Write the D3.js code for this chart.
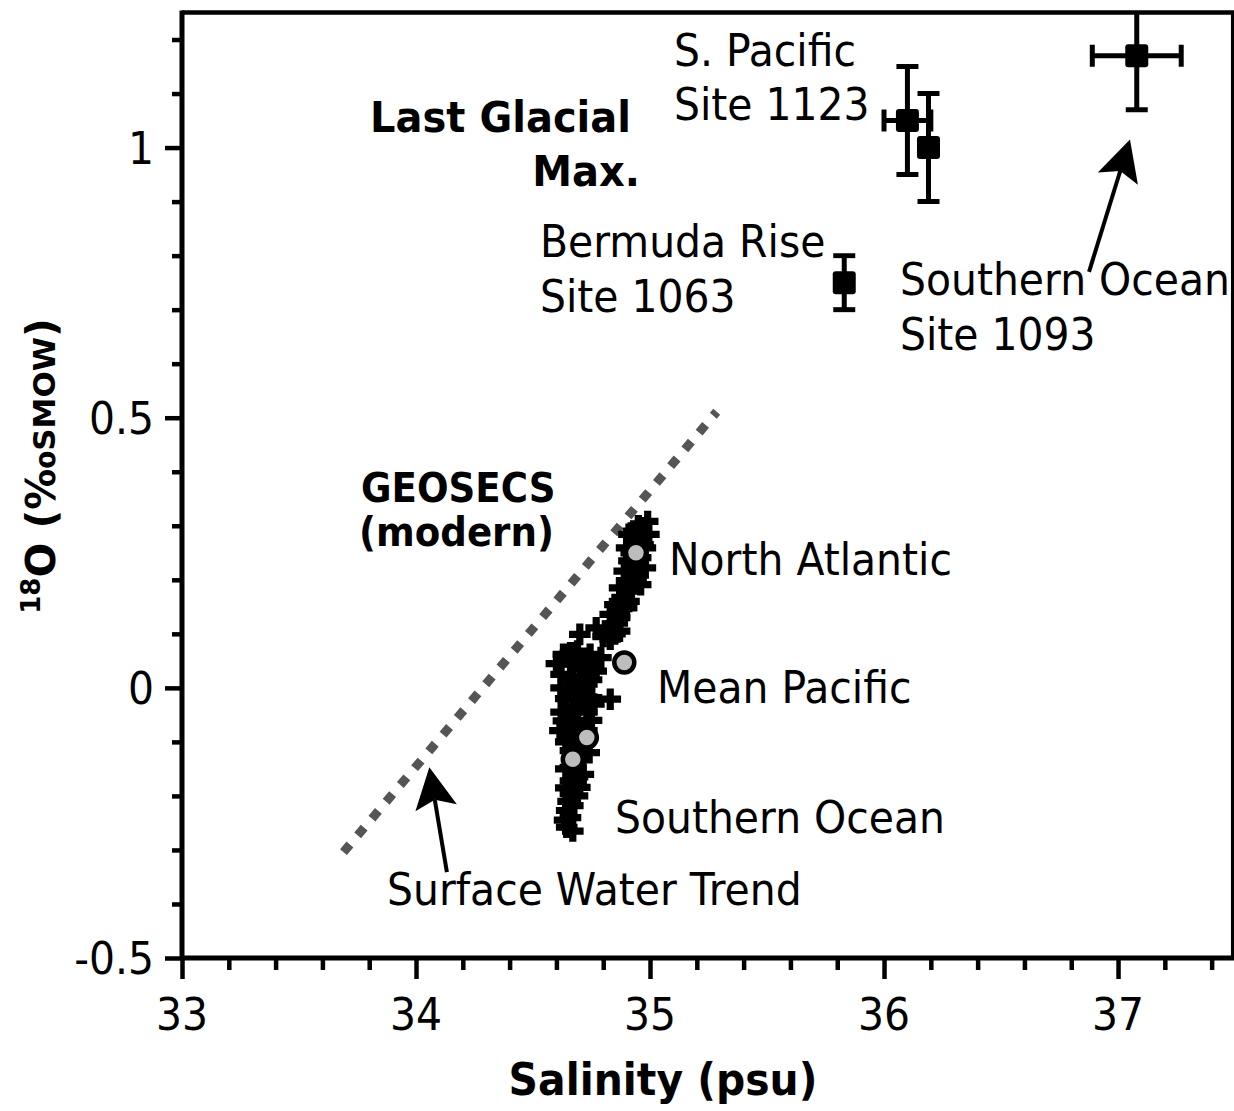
<!DOCTYPE html>
<html>
<head>
<meta charset="utf-8">
<script src="https://cdn.jsdelivr.net/npm/d3@7"></script>
<style>
  html, body { margin: 0; background: #fff; }
  svg { display: block; }
</style>
</head>
<body>
<svg id="chart" width="1234" height="1111"></svg>
<script>
// ---------------- data ----------------
const xTicks = [33, 34, 35, 36, 37];
const xTickLabels = ["33", "34", "35", "36", "37"];
const yTicks = [-0.5, 0, 0.5, 1];
const yTickLabels = ["-0.5", "0", "0.5", "1"];

// GEOSECS modern deep-water samples
const geosecsSal = [
  34.99, 34.96, 34.995, 34.91, 34.94, 34.98, 34.90, 34.96, 34.91, 34.98,
  34.89, 34.93, 34.90, 34.96, 34.87, 34.92, 34.89, 34.85, 34.90, 34.83,
  34.87, 34.84, 34.81, 34.87, 34.77, 34.70, 34.83,
  34.95, 34.93, 34.97, 34.92, 34.95, 34.94, 34.91, 34.87, 34.86, 34.85, 34.80,
  34.63, 34.69, 34.744, 34.79, 34.66, 34.715, 34.77, 34.67, 34.73, 34.65,
  34.70, 34.75, 34.83, 34.67, 34.73, 34.63, 34.69, 34.73, 34.615, 34.67,
  34.715, 34.66, 34.70, 34.66, 34.715, 34.66, 34.70, 34.66, 34.67, 34.644,
  34.635, 34.644,
  34.60, 34.66, 34.70, 34.74, 34.62, 34.70, 34.75, 34.62, 34.68, 34.72,
  34.64, 34.76, 34.62, 34.69, 34.75, 34.66, 34.71, 34.64, 34.70, 34.74,
  34.68, 34.64, 34.69, 34.64, 34.69, 34.65, 34.66, 34.67
];
const geosecsD18O = [
  0.308, 0.296, 0.284, 0.284, 0.271, 0.259, 0.259, 0.241, 0.235, 0.222,
  0.216, 0.210, 0.197, 0.191, 0.185, 0.179, 0.167, 0.154, 0.148, 0.136,
  0.130, 0.118, 0.105, 0.105, 0.111, 0.099, 0.090,
  0.300, 0.290, 0.265, 0.250, 0.228, 0.200, 0.160, 0.160, 0.120, 0.100, 0.095,
  0.062, 0.068, 0.062, 0.056, 0.044, 0.037, 0.031, 0.019, 0.007, -0.006,
  -0.012, -0.018, -0.021, -0.036, -0.045, -0.061, -0.067, -0.079, -0.079, -0.092,
  -0.104, -0.116, -0.129, -0.147, -0.160, -0.172, -0.184, -0.196, -0.218, -0.227,
  -0.245, -0.258,
  0.045, 0.065, 0.050, 0.045, 0.025, 0.020, 0.015, 0.000, 0.000, -0.005,
  -0.020, -0.030, -0.045, -0.040, -0.060, -0.070, -0.085, -0.100, -0.110, -0.120,
  -0.140, -0.150, -0.165, -0.185, -0.200, -0.210, -0.240, -0.265
];

// regional means of the modern water masses
const meanSal  = [34.94, 34.89, 34.73, 34.67];
const meanD18O = [0.250, 0.047, -0.092, -0.132];

// Last Glacial Maximum pore-water reconstructions (sites 1123, 1123, 1063, 1093)
const lgmSal     = [36.10, 36.19, 35.83, 37.08];
const lgmD18O    = [1.05, 1.00, 0.75, 1.17];
const lgmSalErr  = [0.10, 0, 0, 0.19];
const lgmD18OErr = [0.10, 0.10, 0.05, 0.10];

// surface water trend line end points
const trendSal  = [33.69, 35.285];
const trendD18O = [-0.304, 0.511];

// annotation arrows: [tail salinity, tail d18O, tip salinity, tip d18O]
const arrowSouthern = [36.876, 0.770, 37.051, 1.015];
const arrowTrend    = [34.132, -0.341, 34.057, -0.147];

// ---------------- layout ----------------
const FONT = "'DejaVu Sans', Verdana, sans-serif";
const SX = 0.93;
const svg = d3.select("#chart");

const x = d3.scaleLinear().domain([33, 37.49]).range([182, 1232.7]);
const y = d3.scaleLinear().domain([-0.5, 1.25]).range([958, 12.5]);

// text drawn slightly condensed, like the original typeface
function label(txt, px, py, opts = {}) {
  return svg.append("text")
    .attr("transform", `translate(${px},${py}) scale(${SX},1)`)
    .attr("font-family", FONT)
    .attr("font-size", opts.size || 44)
    .attr("font-weight", opts.bold ? "bold" : "normal")
    .attr("text-anchor", opts.anchor || "start")
    .attr("fill", "#000")
    .text(txt);
}

svg.append("defs").append("clipPath").attr("id", "plotClip")
  .append("rect")
  .attr("x", x.range()[0]).attr("y", y.range()[1])
  .attr("width", x.range()[1] - x.range()[0])
  .attr("height", y.range()[0] - y.range()[1]);

// ---------------- axes ----------------
const xMinor = d3.range(33.2, 37.45, 0.2).filter(v => Math.abs(v - Math.round(v)) > 1e-6);
const yMinor = d3.range(-0.4, 1.25, 0.1).filter(v => Math.abs(v * 2 - Math.round(v * 2)) > 1e-6);

function styleAxis(g) {
  g.select(".domain").remove();
  g.selectAll(".tick line").attr("stroke", "#000").attr("stroke-width", 4.5);
  g.selectAll(".tick text").remove();
}

svg.append("g").attr("transform", `translate(0,${y(-0.5)})`)
  .call(d3.axisBottom(x).tickValues(xMinor).tickSize(12).tickFormat(""))
  .call(styleAxis);
svg.append("g").attr("transform", `translate(0,${y(-0.5)})`)
  .call(d3.axisBottom(x).tickValues(xTicks).tickSize(21).tickFormat(""))
  .call(styleAxis);
svg.append("g").attr("transform", `translate(${x(33)},0)`)
  .call(d3.axisLeft(y).tickValues(yMinor).tickSize(10).tickFormat(""))
  .call(styleAxis);
svg.append("g").attr("transform", `translate(${x(33)},0)`)
  .call(d3.axisLeft(y).tickValues(yTicks).tickSize(17).tickFormat(""))
  .call(styleAxis);

// plot frame
const [x0, x1] = x.range();
const [yb, yt] = y.range();
svg.append("line").attr("x1", x0).attr("x2", x1 + 1.5).attr("y1", yb).attr("y2", yb)
  .attr("stroke", "#000").attr("stroke-width", 5);
svg.append("line").attr("x1", x0).attr("x2", x0).attr("y1", yt - 2).attr("y2", yb)
  .attr("stroke", "#000").attr("stroke-width", 5);
svg.append("line").attr("x1", x0).attr("x2", x1 + 1.5).attr("y1", yt).attr("y2", yt)
  .attr("stroke", "#000").attr("stroke-width", 4.5);
svg.append("line").attr("x1", x1).attr("x2", x1).attr("y1", yt).attr("y2", yb)
  .attr("stroke", "#000").attr("stroke-width", 3.5);

// tick labels
xTicks.forEach((v, i) => label(xTickLabels[i], x(v), 1030, { anchor: "middle" }));
yTicks.forEach((v, i) => label(yTickLabels[i], 154, y(v) + 16, { anchor: "end" }));

// axis titles
label("Salinity (psu)", 663, 1095, { bold: true, anchor: "middle" });
const yTitle = svg.append("text")
  .attr("transform", `translate(55,466) rotate(-90)`)
  .attr("font-family", FONT).attr("font-weight", "bold")
  .attr("font-size", 41).attr("text-anchor", "middle");
yTitle.append("tspan").attr("font-size", 26).attr("dy", -15).text("18");
yTitle.append("tspan").attr("dy", 15).text("O (\u2030");
yTitle.append("tspan").attr("font-size", 31).text("SMOW");
yTitle.append("tspan").text(")");

// ---------------- marks ----------------
const plot = svg.append("g").attr("clip-path", "url(#plotClip)");

// surface water trend
plot.append("line")
  .attr("x1", x(trendSal[0])).attr("y1", y(trendD18O[0]))
  .attr("x2", x(trendSal[1])).attr("y2", y(trendD18O[1]))
  .attr("stroke", "#555").attr("stroke-width", 9)
  .attr("stroke-dasharray", "10 12").attr("stroke-linecap", "butt");

// GEOSECS samples as crosses
const cross = d3.symbol().type(d3.symbolCross).size(260);
plot.selectAll("path.geosecs").data(geosecsSal.map((s, i) => [s, geosecsD18O[i]]))
  .join("path").attr("class", "geosecs")
  .attr("transform", d => `translate(${x(d[0])},${y(d[1])})`)
  .attr("d", cross).attr("fill", "#000");

// regional means
plot.selectAll("circle.mean").data(meanSal.map((s, i) => [s, meanD18O[i]]))
  .join("circle").attr("class", "mean")
  .attr("cx", d => x(d[0])).attr("cy", d => y(d[1])).attr("r", 10)
  .attr("fill", "#bdbdbd").attr("stroke", "#000").attr("stroke-width", 4.5);

// LGM error bars and points
const cap = 11;
lgmSal.forEach((s, i) => {
  const cx = x(s), cy = y(lgmD18O[i]);
  const g = plot.append("g").attr("stroke", "#000").attr("stroke-width", 5);
  const yLo = y(lgmD18O[i] - lgmD18OErr[i]), yHi = y(lgmD18O[i] + lgmD18OErr[i]);
  g.append("line").attr("x1", cx).attr("x2", cx).attr("y1", yLo).attr("y2", yHi);
  g.append("line").attr("x1", cx - cap).attr("x2", cx + cap).attr("y1", yLo).attr("y2", yLo);
  g.append("line").attr("x1", cx - cap).attr("x2", cx + cap).attr("y1", yHi).attr("y2", yHi);
  if (lgmSalErr[i] > 0) {
    const xLo = x(s - lgmSalErr[i]), xHi = x(s + lgmSalErr[i]);
    g.append("line").attr("x1", xLo).attr("x2", xHi).attr("y1", cy).attr("y2", cy);
    g.append("line").attr("x1", xLo).attr("x2", xLo).attr("y1", cy - cap).attr("y2", cy + cap);
    g.append("line").attr("x1", xHi).attr("x2", xHi).attr("y1", cy - cap).attr("y2", cy + cap);
  }
});
plot.selectAll("rect.lgm").data(lgmSal.map((s, i) => [s, lgmD18O[i]]))
  .join("rect").attr("class", "lgm")
  .attr("x", d => x(d[0]) - 11.5).attr("y", d => y(d[1]) - 11.5)
  .attr("width", 23).attr("height", 23).attr("rx", 3)
  .attr("fill", "#000");

// ---------------- annotations ----------------
function arrow(a) {
  const tx = x(a[0]), ty = y(a[1]), hx = x(a[2]), hy = y(a[3]);
  const len = Math.hypot(hx - tx, hy - ty);
  const ux = (hx - tx) / len, uy = (hy - ty) / len;
  const nx = -uy, ny = ux;
  const L = 41, W = 21, notch = 8;
  svg.append("line").attr("x1", tx).attr("y1", ty)
    .attr("x2", hx - ux * (L - notch)).attr("y2", hy - uy * (L - notch))
    .attr("stroke", "#000").attr("stroke-width", 4);
  const pts = [
    [hx, hy],
    [hx - ux * L + nx * W, hy - uy * L + ny * W],
    [hx - ux * (L - notch), hy - uy * (L - notch)],
    [hx - ux * L - nx * W, hy - uy * L - ny * W]
  ];
  svg.append("path").attr("d", d3.line()(pts) + "Z").attr("fill", "#000");
}
arrow(arrowSouthern);
arrow(arrowTrend);

// text labels
label("S. Pacific", 674, 66);
label("Site 1123", 674, 120);
label("Last Glacial", 631, 132, { bold: true, size: 43, anchor: "end" });
label("Max.", 640, 186, { bold: true, size: 43, anchor: "end" });
label("Bermuda Rise", 540, 257);
label("Site 1063", 540, 312);
label("Southern Ocean", 900, 295);
label("Site 1093", 900, 350);
label("GEOSECS", 361, 502, { bold: true, size: 40 });
label("(modern)", 359, 546, { bold: true, size: 40 });
label("North Atlantic", 669, 575);
label("Mean Pacific", 657, 703);
label("Southern Ocean", 615, 833);
label("Surface Water Trend", 387, 905);
</script>
</body>
</html>
